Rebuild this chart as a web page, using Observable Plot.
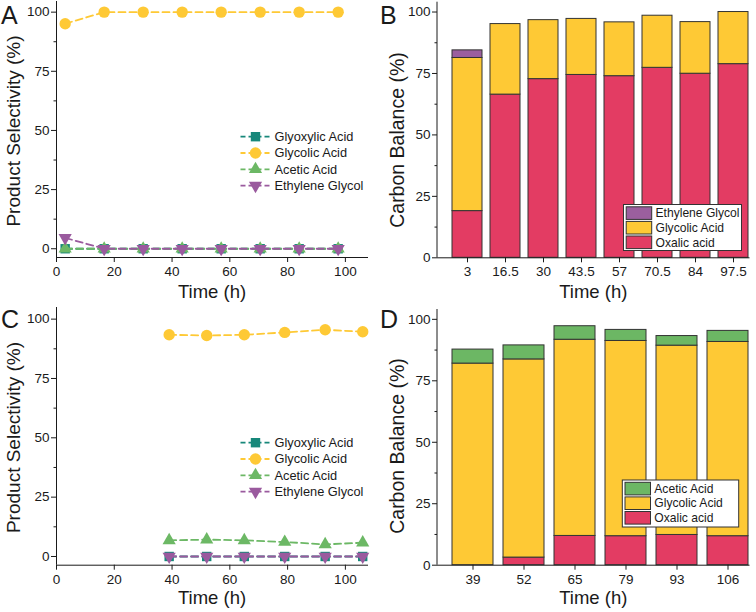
<!DOCTYPE html>
<html><head><meta charset="utf-8">
<script src="https://cdn.jsdelivr.net/npm/d3@7"></script>
<script src="https://cdn.jsdelivr.net/npm/@observablehq/plot@0.6"></script>
<style>
body{margin:0;background:#fff;}
#fig{position:relative;width:756px;height:612px;font-family:"Liberation Sans",Arial,sans-serif;}
.panel{position:absolute;width:378px;height:306px;}
#overlay{position:absolute;left:0;top:0;pointer-events:none;}
</style></head><body><div id="fig"></div>
<script>
// ---------- data ----------
const timeA = [3, 16.5, 30, 43.5, 57, 70.5, 84, 97.5];
const glyoxylicA = [0, 0, 0, 0, 0, 0, 0, 0];
const glycolicA = [95.1, 100, 100, 100, 100, 100, 100, 100];
const aceticA = [0, 0, 0, 0, 0, 0, 0, 0];
const ethyleneGlycolA = [4.6, 0, 0, 0, 0, 0, 0, 0];

const timeC = [39, 52, 65, 79, 93, 106];
const glyoxylicC = [0, 0, 0, 0, 0, 0];
const glycolicC = [93.4, 93.1, 93.4, 94.4, 95.5, 94.7];
const aceticC = [6.8, 7.1, 6.8, 6.1, 5.1, 5.8];
const ethyleneGlycolC = [0, 0, 0, 0, 0, 0];

const timeB = ["3", "16.5", "30", "43.5", "57", "70.5", "84", "97.5"];
const oxalicB = [19.0, 66.4, 72.7, 74.4, 73.9, 77.3, 74.9, 78.8];
const glycolicB = [62.3, 28.7, 24.0, 22.8, 21.9, 21.2, 21.0, 21.2];
const ethyleneGlycolB = [3.1, 0, 0, 0, 0, 0, 0, 0];

const timeD = ["39", "52", "65", "79", "93", "106"];
const oxalicD = [0, 3.1, 11.9, 11.8, 12.3, 11.8];
const glycolicD = [82.0, 80.6, 79.8, 79.4, 77.0, 79.0];
const aceticD = [5.7, 5.7, 5.5, 4.5, 3.9, 4.5];

const pctTicks = [0, 25, 50, 75, 100];
const pctMinor = [12.5, 37.5, 62.5, 87.5];
const timeTicks = [0, 20, 40, 60, 80, 100];

const lineNames = ["Glyoxylic Acid", "Glycolic Acid", "Acetic Acid", "Ethylene Glycol"];

// ---------- styles ----------
const lineColors = ["#17877a", "#fec935", "#6cb865", "#9a5a9e"];
const lineSymbols = ["square", "circle", "triangle", "triangle"];
const d3Symbols = [d3.symbolSquare, d3.symbolCircle, d3.symbolTriangle, d3.symbolTriangle];
const lineRotate = [0, 0, 0, 180];
const lineRadii = [5.3, 5.7, 4.9, 4.9];
const COL = {oxalic: "#e33c63", glycolic: "#fec935", eg: "#9b5f9e", acetic: "#6cb764"};
const FONT = "'Liberation Sans', Arial, sans-serif";
const INK = "#1a1a1a";

const fig = document.getElementById("fig");

function place(node, left, top) {
  const d = document.createElement("div");
  d.className = "panel";
  d.style.left = left + "px";
  d.style.top = top + "px";
  d.appendChild(node);
  fig.appendChild(d);
}

function titles(plot, xTitle, yTitle, xBase, yBase, yCenter, ySize) {
  const svg = d3.select(plot);
  const xr = plot.scale("x").range;
  svg.append("text").attr("x", (xr[0] + xr[1]) / 2).attr("y", xBase)
    .attr("text-anchor", "middle").attr("font-weight", "normal")
    .attr("font-size", 18.5).attr("fill", INK).text(xTitle);
  svg.append("text").attr("transform", `translate(${yBase},${yCenter}) rotate(-90)`)
    .attr("text-anchor", "middle").attr("font-weight", "normal")
    .attr("font-size", ySize).attr("fill", INK).text(yTitle);
}

function linePanel(left, top, times, values, yDomain, mBottom, yTitleCenter) {
  const data = lineNames.flatMap((name, k) => times.map((t, i) => ({name, k, t, v: values[k][i]})));
  const marks = [
    Plot.ruleX([0], {stroke: INK, strokeWidth: 1}),
    Plot.ruleY([yDomain[0]], {stroke: INK, strokeWidth: 1}),
    Plot.axisY({ticks: pctTicks, tickSize: 5, tickPadding: 2, fontSize: 13.5, label: null}),
    Plot.axisY({ticks: pctMinor, tickSize: 2.5, tickFormat: () => "", label: null}),
    Plot.axisX({ticks: timeTicks, tickSize: 5, tickPadding: 4, fontSize: 13.5, label: null})
  ];
  lineNames.forEach((name, k) => {
    const d = data.filter(r => r.k === k);
    marks.push(Plot.line(d, {x: "t", y: "v", stroke: lineColors[k], strokeWidth: 1.8, strokeDasharray: "7,4"}));
    marks.push(Plot.dot(d, {x: "t", y: "v", fill: lineColors[k], symbol: lineSymbols[k], r: lineRadii[k], rotate: lineRotate[k]}));
  });
  const plot = Plot.plot({
    width: 378, height: 306,
    marginLeft: 56, marginRight: 10, marginTop: 1, marginBottom: mBottom,
    x: {domain: [0, 108]},
    y: {domain: yDomain},
    style: {fontFamily: FONT, color: INK, background: "transparent"},
    marks
  });
  titles(plot, "Time (h)", "Product Selectivity (%)", 297.5, 19.5, yTitleCenter, 19);
  // legend
  const svg = d3.select(plot);
  const g = svg.append("g").attr("text-anchor", "start");
  lineNames.forEach((name, k) => {
    const y = 136.7 + 16.3 * k;
    g.append("line").attr("x1", 240.5).attr("x2", 271.5).attr("y1", y).attr("y2", y)
      .attr("stroke", lineColors[k]).attr("stroke-width", 1.8).attr("stroke-dasharray", "5,3");
    g.append("path").attr("d", d3.symbol(d3Symbols[k], Math.PI * lineRadii[k] ** 2)())
      .attr("transform", `translate(255.5,${y}) rotate(${lineRotate[k]})`).attr("fill", lineColors[k]);
    g.append("text").attr("x", 274.5).attr("y", y).attr("dy", "0.35em").attr("text-anchor", "start")
      .attr("font-size", 12.8).attr("fill", INK).text(name);
  });
  place(plot, left, top);
}

function barPanel(left, top, times, series, mTop, mBottom, pi, po, legend) {
  const rows = [];
  times.forEach((t, i) => series.forEach(s => {
    if (s.values[i] > 0) rows.push({t, name: s.name, v: s.values[i]});
  }));
  const plot = Plot.plot({
    width: 378, height: 306,
    marginLeft: 59, marginRight: 6.5, marginTop: mTop, marginBottom: mBottom,
    x: {domain: times, type: "band", paddingInner: pi, paddingOuter: po, align: 0.92},
    y: {domain: [0, 104]},
    color: {domain: series.map(s => s.name), range: series.map(s => s.color)},
    style: {fontFamily: FONT, color: INK, background: "transparent"},
    marks: [
      Plot.barY(rows, {x: "t", y: "v", fill: "name", stroke: "#333", strokeWidth: 1}),
      Plot.ruleY([0], {stroke: INK, strokeWidth: 1}),
      Plot.axisY({ticks: pctTicks, tickSize: 5, tickPadding: 2, fontSize: 13.5, label: null}),
      Plot.axisY({ticks: pctMinor, tickSize: 2.5, tickFormat: () => "", label: null}),
      Plot.axisX({tickSize: 5, tickPadding: 4, fontSize: 13.5, label: null})
    ]
  });
  const svg = d3.select(plot);
  const xr = plot.scale("x").range, yr = plot.scale("y").range;
  svg.append("line").attr("x1", xr[0]).attr("x2", xr[0]).attr("y1", yr[1]).attr("y2", yr[0])
    .attr("stroke", INK).attr("stroke-width", 1);
  titles(plot, "Time (h)", "Carbon Balance (%)", 298, 25.5, 140, 19.5);
  // legend (top entry first)
  const g = svg.append("g").attr("text-anchor", "start");
  g.append("rect").attr("x", legend.x).attr("y", legend.y).attr("width", legend.w).attr("height", legend.h)
    .attr("fill", "#fff").attr("stroke", "#333").attr("stroke-width", 1);
  const ordered = series.slice().reverse();
  ordered.forEach((s, k) => {
    const y = legend.y + 2.3 + 14.6 * k;
    g.append("rect").attr("x", legend.x + 2.7).attr("y", y).attr("width", 25.5).attr("height", 12.6)
      .attr("fill", s.color).attr("stroke", "#333").attr("stroke-width", 1);
    g.append("text").attr("x", legend.x + 32).attr("y", y + 6.3).attr("dy", "0.35em").attr("text-anchor", "start")
      .attr("font-size", 12.1).attr("fill", INK).text(s.name);
  });
  place(plot, left, top);
}

linePanel(0, 0, timeA, [glyoxylicA, glycolicA, aceticA, ethyleneGlycolA], [-3.7, 104.5], 49, 131);
barPanel(378, 0, timeB, [
  {name: "Oxalic acid", values: oxalicB, color: COL.oxalic},
  {name: "Glycolic Acid", values: glycolicB, color: COL.glycolic},
  {name: "Ethylene Glycol", values: ethyleneGlycolB, color: COL.eg}
], 1.7, 48.7, 0.2, 0.107, {x: 245.5, y: 204.5, w: 118, h: 46});
linePanel(0, 306, timeC, [glyoxylicC, glycolicC, aceticC, ethyleneGlycolC], [-3.67, 104.9], 47.3, 131.5);
barPanel(378, 306, timeD, [
  {name: "Oxalic acid", values: oxalicD, color: COL.oxalic},
  {name: "Glycolic Acid", values: glycolicD, color: COL.glycolic},
  {name: "Acetic Acid", values: aceticD, color: COL.acetic}
], 3, 47.3, 0.188, 0.10, {x: 244.3, y: 174, w: 116.4, h: 47});

// panel letters
const ov = d3.select(fig).append("svg").attr("id", "overlay").attr("width", 756).attr("height", 612);
[["A", 1, 23.5], ["B", 380, 23.5], ["C", 1, 328], ["D", 380, 328]].forEach(([t, x, y]) => {
  ov.append("text").attr("x", x).attr("y", y).attr("font-family", FONT).attr("font-size", 25)
    .attr("fill", INK).text(t);
});
</script>
</body></html>
